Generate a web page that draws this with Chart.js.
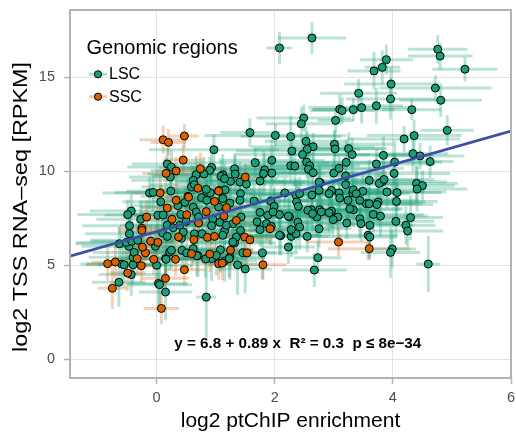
<!DOCTYPE html>
<html>
<head>
<meta charset="utf-8">
<script src="https://cdn.jsdelivr.net/npm/chart.js@4.4.0/dist/chart.umd.min.js"></script>
<style>
  html, body { margin: 0; padding: 0; background: #fff; }
  canvas { display: block; }
</style>
</head>
<body>
<canvas id="chart" width="516" height="439"></canvas>
<script>
// axis ticks
const xTicks = [0, 2, 4, 6];
const yTicks = [0, 5, 10, 15];

const groups = ['LSC', 'SSC'];
const xTitle = 'log2 ptChIP enrichment';
const yTitle = 'log2 TSS RNA\u2013seq [RPKM]';

// [log2 ptChIP enrichment, log2 TSS RNA-seq, x error, y error]
const lscPoints = [
  [2.08,16.56,0.22,0.85],[2.63,17.09,0.58,0.85],[4.76,16.49,0.50,0.75],[4.80,16.13,0.55,0.70],[5.22,15.43,0.55,0.65],
  [3.89,15.94,0.45,0.80],[3.82,15.53,0.30,0.90],[3.68,15.34,0.45,1.00],[3.97,14.64,0.80,0.90],[3.42,14.15,0.65,0.75],
  [4.72,14.43,0.95,0.70],[4.81,13.78,0.70,0.90],[3.96,13.85,0.75,1.10],[3.72,13.49,0.45,0.95],[3.47,13.39,0.90,0.85],
  [3.33,13.28,0.70,0.60],[3.10,13.30,0.45,0.80],[3.14,13.23,0.55,0.70],[4.32,13.28,0.50,0.55],[2.49,12.84,0.80,0.70],
  [2.45,12.53,0.60,0.90],[3.03,12.71,0.30,0.65],[4.92,12.18,0.45,0.80],[4.36,11.90,0.80,0.85],[4.19,11.72,0.95,0.70],
  [1.58,12.06,0.50,0.75],[2.01,11.91,1.20,0.60],[2.27,11.85,0.85,1.10],[2.53,11.60,0.70,0.80],[2.65,11.31,1.05,0.75],
  [2.55,11.17,0.90,0.95],[3.01,11.44,1.00,0.70],[3.02,11.19,0.80,1.00],[3.25,11.21,0.65,0.85],[3.31,10.89,1.10,0.90],
  [3.21,10.48,0.75,1.20],[2.29,11.08,0.95,0.60],[2.47,10.89,1.15,0.85],[0.97,11.15,1.10,0.80],[1.95,10.59,0.90,1.10],
  [1.67,10.46,1.25,0.75],[2.27,10.30,0.80,0.90],[2.34,10.28,1.00,1.05],[2.54,10.49,0.70,0.85],[2.59,10.30,0.85,0.70],
  [2.57,10.11,1.20,0.95],[2.65,9.93,0.75,1.10],[3.00,9.91,0.90,0.80],[3.09,10.16,1.10,0.65],[3.20,9.75,0.60,1.00],
  [1.83,10.07,0.95,0.85],[1.81,9.88,1.05,1.20],[1.95,9.91,0.70,0.75],[1.75,9.49,0.85,1.00],[1.32,10.14,1.20,0.80],
  [0.93,10.21,0.90,0.95],[0.90,10.05,1.00,0.70],[1.12,9.82,0.80,1.10],[1.09,9.73,1.15,0.85],[0.80,9.86,0.95,0.90],
  [0.67,9.82,0.70,1.00],[0.62,9.52,1.05,0.75],[0.59,9.17,0.85,1.15],[1.25,9.47,0.90,0.80],[1.33,9.86,0.75,0.95],
  [1.41,9.43,1.10,1.05],[1.52,9.32,0.95,0.70],[0.18,10.39,0.60,0.85],[0.25,10.23,0.75,0.90],[3.84,10.85,0.85,1.00],
  [3.72,10.39,1.00,0.80],[4.03,10.49,0.80,1.15],[4.34,10.94,0.60,0.95],[4.46,10.82,0.75,0.70],[4.63,10.52,0.40,0.85],
  [4.02,9.89,0.95,1.05],[3.82,9.45,1.10,0.90],[3.77,9.36,0.80,0.75],[3.60,9.52,0.90,1.10],[4.40,9.36,0.70,0.95],
  [4.50,9.24,0.55,0.80],[4.41,9.06,0.85,1.20],[2.77,9.39,1.00,0.85],[3.20,9.29,0.90,0.70],[3.49,8.94,1.05,0.90],
  [2.96,8.99,0.80,1.00],[3.09,8.85,0.95,0.75],[3.32,8.85,0.85,1.10],[3.90,8.90,1.00,0.85],[4.07,8.87,0.75,0.95],
  [2.17,8.85,0.90,0.80],[2.63,8.74,1.10,1.05],[2.36,8.72,0.80,0.90],[2.92,8.81,0.95,0.70],[-0.12,8.85,0.80,0.85],
  [-0.06,8.88,0.65,1.00],[0.24,8.95,0.75,0.90],[0.85,8.88,0.90,0.75],[0.91,8.85,0.70,1.05],[1.42,8.81,0.85,0.95],
  [0.23,9.70,0.70,0.80],[0.64,9.29,0.75,1.00],[1.15,9.61,0.90,0.85],[0.84,9.04,0.80,0.95],[1.06,8.99,0.95,0.80],
  [1.16,9.02,0.70,1.10],[0.07,8.38,0.65,0.90],[0.53,8.67,0.80,1.00],[0.48,8.35,0.75,0.85],[0.62,8.10,0.90,0.95],
  [0.76,8.60,0.85,0.80],[0.85,8.46,0.70,1.05],[0.36,8.17,0.80,0.90],[0.67,7.84,0.95,0.85],[0.71,7.57,0.75,1.10],
  [-0.43,7.89,0.70,0.95],[-0.49,7.70,0.85,0.80],[-0.27,7.45,0.75,1.00],[0.02,7.66,0.90,0.85],[0.11,7.68,0.65,0.90],
  [0.41,7.71,0.80,1.05],[0.50,7.34,0.85,0.95],[1.05,8.10,0.90,0.80],[1.18,8.02,0.75,1.00],[0.95,7.46,0.85,0.90],
  [1.07,7.29,0.70,1.10],[-0.46,7.11,0.80,0.85],[2.75,9.43,0.90,0.85],[2.75,8.99,0.80,1.00],[2.42,8.81,0.85,0.90],
  [3.10,8.58,0.95,0.80],[3.24,8.46,0.80,1.05],[3.33,9.02,0.75,0.90],[3.38,8.81,0.90,0.85],[3.55,8.28,0.85,1.00],
  [3.44,8.46,1.00,0.80],[1.65,8.42,0.90,0.95],[1.41,8.46,0.80,1.10],[1.24,8.31,0.85,0.85],[1.12,8.55,0.75,0.90],
  [1.93,8.42,0.95,0.80],[1.99,8.14,0.80,1.00],[2.08,7.70,0.85,0.90],[2.25,7.57,0.90,1.05],[2.39,7.30,0.75,0.95],
  [2.42,7.04,0.80,1.20],[2.62,7.96,0.95,0.85],[2.76,7.96,0.85,0.90],[2.71,7.57,0.80,1.00],[2.79,7.84,0.90,0.80],
  [2.96,7.89,0.85,0.95],[3.07,7.57,0.75,1.10],[3.22,7.25,0.90,0.85],[3.33,7.96,0.80,0.90],[3.44,7.48,0.85,1.00],
  [3.46,7.22,0.70,0.95],[1.75,7.82,0.90,0.85],[1.70,7.32,0.85,1.05],[1.86,7.22,0.75,0.90],[1.79,5.66,0.60,1.40],
  [1.46,5.67,0.55,1.10],[1.37,5.03,0.50,1.60],[1.50,4.81,0.45,1.30],[1.24,5.44,0.60,1.20],[1.32,6.19,0.70,1.00],
  [1.35,6.51,0.65,0.95],[2.23,5.97,0.45,0.90],[2.10,6.58,0.70,1.05],[2.55,6.54,0.60,0.85],[2.75,6.95,0.55,1.00],
  [2.73,5.41,0.40,0.85],[2.67,4.75,0.55,0.90],[2.28,6.54,0.65,1.10],[2.29,6.82,0.70,0.95],[2.36,6.68,0.60,1.00],
  [1.75,6.90,0.80,0.90],[1.94,7.07,0.75,1.00],[1.08,5.83,0.55,1.20],[3.58,6.60,0.50,1.30],[3.85,9.57,0.85,0.95],
  [3.60,8.28,0.90,0.85],[3.75,8.37,0.80,1.05],[3.73,8.23,0.95,0.90],[4.06,8.40,0.70,1.00],[3.67,7.71,0.85,0.95],
  [3.79,7.62,0.80,1.10],[3.61,7.13,0.75,1.00],[4.05,7.34,0.65,0.90],[4.30,7.54,0.55,1.20],[4.22,7.13,0.50,1.00],
  [4.25,6.83,0.60,0.85],[3.61,6.51,0.45,1.10],[3.99,5.87,0.40,1.00],[3.96,5.69,0.50,1.35],[4.60,5.07,0.20,1.50],
  [1.88,7.66,0.80,0.90],[1.97,7.84,0.85,1.00],[2.23,7.62,0.90,0.95],[2.37,8.37,0.85,0.90],[2.40,8.14,0.80,1.05],
  [2.56,7.93,0.90,0.85],[2.64,7.75,0.75,0.95],[2.92,7.80,0.85,1.00],[2.99,7.43,0.80,0.90],[3.27,8.01,0.90,0.95],
  [2.08,6.60,0.70,1.05],[2.28,6.90,0.65,0.95],[1.29,7.21,0.80,0.90],[1.43,7.57,0.85,1.00],[1.42,6.86,0.75,0.95],
  [1.15,6.83,0.70,1.10],[1.12,6.60,0.80,0.90],[1.29,6.24,0.65,1.05],[-0.64,4.10,0.45,1.30],[-0.59,5.07,0.70,1.10],
  [-0.55,5.03,0.65,1.20],[-0.40,5.03,0.60,1.00],[-0.40,5.43,0.75,1.15],[-0.38,5.69,0.70,0.95],[-0.47,6.01,0.80,1.00],
  [-0.63,6.15,0.75,0.90],[-0.51,6.22,0.85,1.05],[-0.42,6.28,0.70,0.95],[-0.32,6.33,0.80,0.90],[-0.46,6.68,0.75,1.00],
  [0.03,4.04,0.50,1.40],[0.05,3.97,0.55,1.30],[0.15,3.58,0.45,1.50],[0.84,3.31,0.17,2.20],[-0.02,6.01,0.70,1.05],
  [0.15,5.36,0.75,1.10],[0.22,5.71,0.65,1.00],[0.25,5.80,0.70,0.95],[0.43,5.80,0.80,1.05],[0.51,5.66,0.75,1.00],
  [0.62,5.89,0.70,0.90],[0.70,5.53,0.65,1.15],[0.93,5.36,0.60,1.20],[1.15,5.23,0.55,1.10],[1.23,5.36,0.60,1.00],
  [0.10,6.73,0.75,0.95],[0.18,6.54,0.80,1.00],[0.42,6.44,0.70,0.90],[0.64,6.68,0.85,1.05],[0.18,7.14,0.80,0.95],
  [0.28,7.00,0.75,1.00],[0.39,7.13,0.70,0.90],[0.45,6.77,0.85,1.10],[0.93,7.11,0.80,0.95],[1.18,7.13,0.75,1.00],
  [0.77,6.68,0.70,0.95],[0.68,5.51,0.60,1.10],[0.83,5.34,0.65,1.00],[1.01,5.53,0.60,1.05],[0.16,5.32,0.70,1.00],
  [0.00,5.00,0.60,1.20],[-0.43,4.51,0.55,1.15]
];

const sscPoints = [
  [0.11,11.68,0.40,0.75],[0.20,11.54,0.30,0.70],[0.47,11.88,0.25,0.65],[0.45,10.60,0.35,0.80],[0.16,9.89,0.40,0.90],
  [0.33,10.02,0.35,0.75],[0.74,10.14,0.45,0.85],[0.70,9.10,0.40,0.90],[1.05,8.95,0.35,0.80],[0.06,8.85,0.45,0.95],
  [1.50,9.69,0.30,0.70],[0.33,8.46,0.40,0.85],[0.98,8.40,0.35,0.90],[0.18,8.05,0.45,0.80],[0.51,7.69,0.40,0.95],
  [0.84,7.86,0.35,0.85],[-0.17,7.57,0.40,0.90],[0.26,7.45,0.45,0.80],[1.14,7.62,0.35,0.95],[-0.25,6.97,0.40,0.85],
  [-0.83,5.09,0.35,0.90],[-0.70,5.18,0.40,0.85],[-0.49,4.59,0.30,0.95],[-0.75,3.78,0.25,1.10],[0.15,4.31,0.40,0.90],
  [0.47,4.77,0.35,0.85],[0.08,2.71,0.30,0.85],[-0.33,5.36,0.40,0.90],[-0.26,4.98,0.35,0.85],[-0.19,5.66,0.40,0.80],
  [-0.24,5.97,0.45,0.90],[-0.10,6.29,0.40,0.85],[0.02,6.22,0.35,0.95],[-0.05,5.32,0.40,0.80],[0.32,5.32,0.45,0.90],
  [0.59,5.62,0.40,0.85],[0.86,6.49,0.35,0.90],[0.98,6.54,0.40,0.80],[0.90,5.60,0.45,0.95],[1.05,5.09,0.40,0.85],
  [0.71,7.25,0.35,0.90],[-0.25,6.86,0.40,0.80],[1.92,6.95,0.35,0.85],[1.35,7.39,0.40,0.90],[1.18,8.07,0.35,0.80],
  [1.49,6.51,0.40,0.85],[1.58,6.36,0.35,0.90],[1.25,5.81,0.40,0.95],[1.53,5.66,0.35,0.85],[1.80,5.03,0.40,0.80],
  [3.08,6.24,0.55,0.75],[3.60,5.89,0.70,0.60],[1.11,5.12,0.35,0.90],[0.63,6.37,0.40,0.85],[0.37,6.51,0.35,0.90],
  [0.54,8.63,0.40,0.85]
];

// fitted line, read at the panel edges
const fitX = [-1.467, 6];
const fitY = [5.49, 12.14];
const fitLabel = 'y = 6.8 + 0.89 x  R\u00b2 = 0.3  p \u2264 8e\u221234';

const FONT = '"Liberation Sans", Arial, sans-serif';
const green = '#1b9e77';
const orange = '#d95f02';

function toPoints(rows) {
  return rows.map(([x, y, xe, ye]) => ({ x, y, xe, ye }));
}

const errorBars = {
  id: 'errorBars',
  beforeDatasetsDraw(chart) {
    const { ctx, chartArea, scales: { x, y } } = chart;
    ctx.save();
    ctx.beginPath();
    ctx.rect(chartArea.left, chartArea.top, chartArea.width, chartArea.height);
    ctx.clip();
    ctx.lineWidth = 3;
    ctx.lineCap = 'butt';
    chart.data.datasets.forEach(ds => {
      if (!ds.errorColor) return;
      ctx.strokeStyle = ds.errorColor;
      ds.data.forEach(p => {
        const px = x.getPixelForValue(p.x);
        const py = y.getPixelForValue(p.y);
        ctx.beginPath();
        ctx.moveTo(x.getPixelForValue(p.x - p.xe), py);
        ctx.lineTo(x.getPixelForValue(p.x + p.xe), py);
        ctx.stroke();
        ctx.beginPath();
        ctx.moveTo(px, y.getPixelForValue(p.y - p.ye));
        ctx.lineTo(px, y.getPixelForValue(p.y + p.ye));
        ctx.stroke();
      });
    });
    ctx.restore();
  }
};

const panelExtras = {
  id: 'panelExtras',
  afterDatasetsDraw(chart) {
    const { ctx, chartArea, scales: { x, y } } = chart;
    const { left, top, width, height } = chartArea;
    ctx.save();

    // regression label
    ctx.font = 'bold 15px ' + FONT;
    ctx.fillStyle = '#000';
    ctx.textBaseline = 'middle';
    ctx.textAlign = 'center';
    const cx = x.getPixelForValue(2.39);
    const cy = y.getPixelForValue(0.85);
    const w = ctx.measureText(fitLabel).width;
    ctx.translate(cx, cy);
    ctx.scale(247 / w, 1);
    ctx.fillText(fitLabel, 0, 0);
    ctx.setTransform(1, 0, 0, 1, 0, 0);

    // legend (no background, inside panel)
    ctx.textAlign = 'left';
    ctx.font = '20px ' + FONT;
    ctx.fillStyle = '#000';
    ctx.fillText('Genomic regions', left + 16.5, top + 38);
    const colors = [green, orange];
    const errCols = ['rgba(27,158,119,0.35)', 'rgba(217,95,2,0.32)'];
    groups.forEach((g, i) => {
      const ry = top + 64.3 + i * 22.4;
      ctx.strokeStyle = errCols[i];
      ctx.lineWidth = 3;
      ctx.beginPath();
      ctx.moveTo(left + 19, ry);
      ctx.lineTo(left + 37, ry);
      ctx.stroke();
      ctx.beginPath();
      ctx.arc(left + 28, ry, 3.6, 0, Math.PI * 2);
      ctx.fillStyle = colors[i];
      ctx.fill();
      ctx.lineWidth = 1;
      ctx.strokeStyle = '#000';
      ctx.stroke();
      ctx.fillStyle = '#000';
      ctx.font = '16px ' + FONT;
      ctx.fillText(g, left + 39, ry + 0.5);
    });

    // panel border
    ctx.strokeStyle = '#b3b3b3';
    ctx.lineWidth = 2;
    ctx.strokeRect(left, top, width, height);
    ctx.restore();
  },
  afterDraw(chart) {
    // y axis title, drawn by hand to match its offset along the axis
    const { ctx, chartArea } = chart;
    ctx.save();
    ctx.font = '21px ' + FONT;
    ctx.fillStyle = '#000';
    ctx.textAlign = 'center';
    ctx.textBaseline = 'middle';
    const w = ctx.measureText(yTitle).width;
    ctx.translate(21, chartArea.top + 197);
    ctx.rotate(-Math.PI / 2);
    ctx.scale(290 / w, 1);
    ctx.fillText(yTitle, 0, 0);
    ctx.restore();
  }
};

const ctx = document.getElementById('chart').getContext('2d');

new Chart(ctx, {
  type: 'scatter',
  data: {
    datasets: [
      {
        label: 'fit',
        type: 'line',
        data: fitX.map((v, i) => ({ x: v, y: fitY[i] })),
        borderColor: '#3b4fa5',
        borderWidth: 2.6,
        pointRadius: 0,
        fill: false,
        order: 0,
      },
      {
        label: groups[1],
        data: toPoints(sscPoints),
        backgroundColor: orange,
        borderColor: '#000',
        borderWidth: 1,
        pointRadius: 4,
        errorColor: 'rgba(217,95,2,0.28)',
        order: 1,
      },
      {
        label: groups[0],
        data: toPoints(lscPoints),
        backgroundColor: green,
        borderColor: '#000',
        borderWidth: 1,
        pointRadius: 4,
        errorColor: 'rgba(27,158,119,0.3)',
        order: 2,
      },
    ]
  },
  options: {
    responsive: false,
    animation: false,
    events: [],
    layout: { padding: { left: 0, right: 5, top: 10, bottom: 0 } },
    plugins: {
      legend: { display: false },
      tooltip: { enabled: false },
    },
    scales: {
      x: {
        type: 'linear',
        min: -1.467,
        max: 6,
        afterBuildTicks: ax => { ax.ticks = xTicks.map(v => ({ value: v })); },
        afterFit: ax => { ax.height = 61; ax.paddingLeft = 0; ax.paddingRight = 0; },
        grid: { color: '#e2e2e2', lineWidth: 1, tickLength: 6, tickColor: '#b3b3b3', tickWidth: 1.5 },
        border: { display: false },
        ticks: { color: '#4d4d4d', font: { family: FONT, size: 14.5 }, padding: 5, maxRotation: 0 },
        title: {
          display: true,
          text: xTitle,
          color: '#000',
          font: { family: FONT, size: 21, lineHeight: 1.2 },
          padding: { top: 0, bottom: 5 },
        },
      },
      y: {
        type: 'linear',
        min: -0.99,
        max: 18.58,
        afterBuildTicks: ax => { ax.ticks = yTicks.map(v => ({ value: v })); },
        afterFit: ax => { ax.width = 70; ax.paddingTop = 0; ax.paddingBottom = 0; },
        grid: { color: '#e2e2e2', lineWidth: 1, tickLength: 6, tickColor: '#b3b3b3', tickWidth: 1.5 },
        border: { display: false },
        ticks: { color: '#4d4d4d', font: { family: FONT, size: 14.5 }, padding: 9 },
        title: { display: false },
      },
    },
  },
  plugins: [errorBars, panelExtras],
});
</script>
</body>
</html>
